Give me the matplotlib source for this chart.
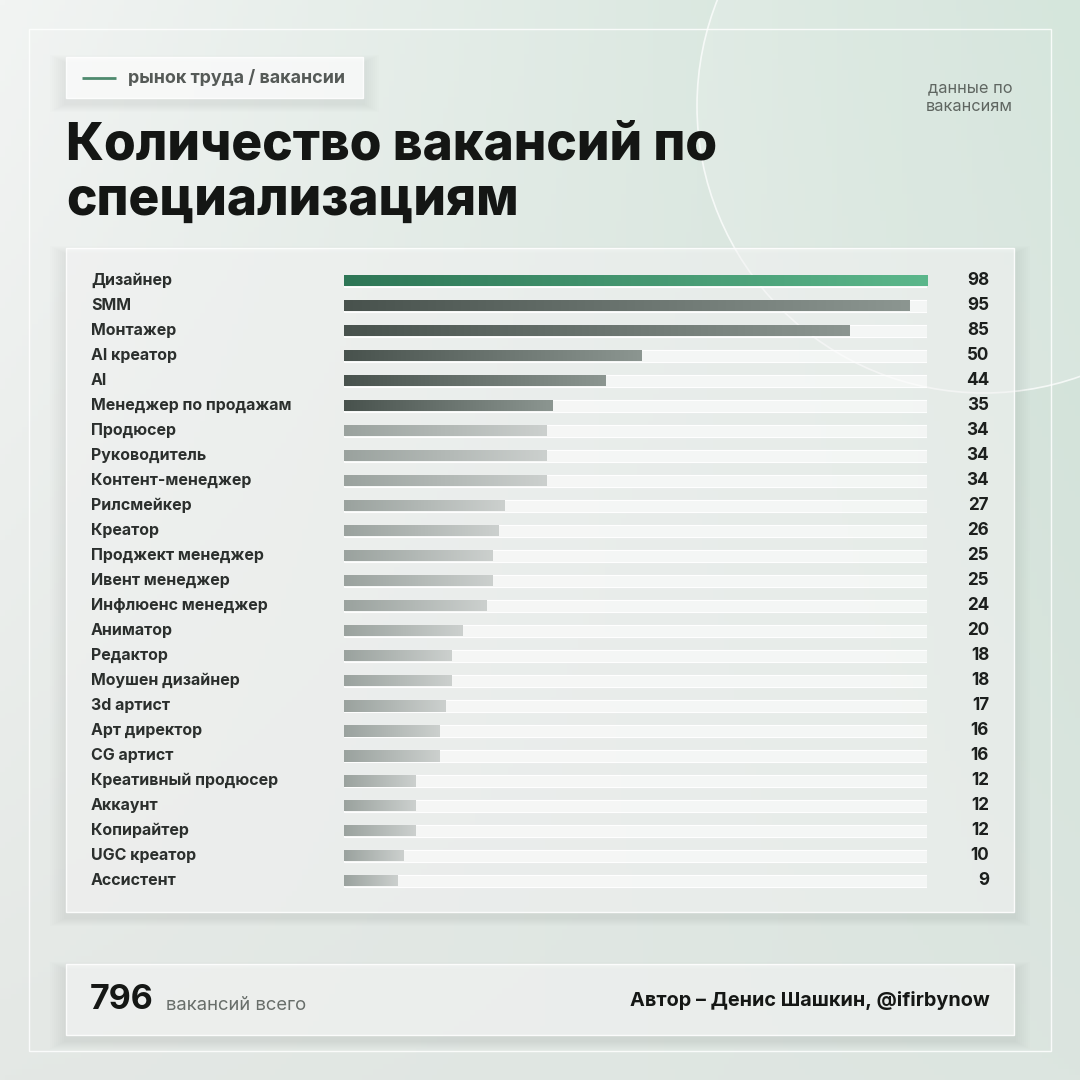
import numpy as np
import matplotlib
matplotlib.use("Agg")
import matplotlib.pyplot as plt
import matplotlib.transforms as mtransforms
from matplotlib.patches import Rectangle, Circle
from matplotlib.colors import LinearSegmentedColormap, to_rgb

plt.rcParams['font.family'] = ['Inter', 'DejaVu Sans']

# данные
specs = ["Дизайнер", "SMM", "Монтажер", "AI креатор", "AI", "Менеджер по продажам",
         "Продюсер", "Руководитель", "Контент-менеджер", "Рилсмейкер", "Креатор",
         "Проджект менеджер", "Ивент менеджер", "Инфлюенс менеджер", "Аниматор",
         "Редактор", "Моушен дизайнер", "3d артист", "Арт директор", "CG артист",
         "Креативный продюсер", "Аккаунт", "Копирайтер", "UGC креатор", "Ассистент"]
counts = [98, 95, 85, 50, 44, 35, 34, 34, 34, 27, 26, 25, 25, 24, 20,
          18, 18, 17, 16, 16, 12, 12, 12, 10, 9]
total = 796

W = H = 1080
fig = plt.figure(figsize=(10.8, 10.8), dpi=100)

# фон в пиксельных координатах
bg = fig.add_axes([0, 0, 1, 1])
bg.set_xlim(0, W)
bg.set_ylim(H, 0)
bg.axis('off')

tl, tr = np.array(to_rgb("#f2f4f3")), np.array(to_rgb("#cfe2d7"))
bl, br = np.array(to_rgb("#e4e8e5")), np.array(to_rgb("#dce5e0"))
u = np.linspace(0, 1, 200)[None, :, None]
v = np.linspace(0, 1, 200)[:, None, None]
grad = (1 - v) * ((1 - u) * tl + u * tr) + v * ((1 - u) * bl + u * br)
bg.imshow(grad, extent=[0, W, H, 0], aspect='auto', zorder=0)

bg.add_patch(Circle((984, 106), 287, facecolor=(1, 1, 1, 0.14),
                    edgecolor=(1, 1, 1, 0.75), lw=1.2, zorder=1))
bg.add_patch(Rectangle((29, 29), 1022, 1022, fill=False,
                       edgecolor=(1, 1, 1, 0.85), lw=1.0, zorder=2))


def panel(x0, y0, x1, y1, alpha):
    # мягкая тень
    for k in range(1, 9):
        bg.add_patch(Rectangle((x0 - k * 2, y0 - k + 6), x1 - x0 + k * 4, y1 - y0 + k * 2,
                               facecolor=(0.35, 0.4, 0.37, 0.011), edgecolor='none', zorder=2))
    bg.add_patch(Rectangle((x0, y0), x1 - x0, y1 - y0, facecolor=(1, 1, 1, alpha),
                           edgecolor=(1, 1, 1, 0.9), lw=1.0, zorder=3))


panel(66, 57, 363, 98, 0.78)
panel(66, 248, 1014, 912, 0.55)
panel(66, 964, 1014, 1035, 0.58)

# тег
bg.plot([82, 116], [78, 78], color="#4e8a6e", lw=2, solid_capstyle='butt', zorder=4)
bg.text(128, 78, "рынок труда / вакансии", fontsize=12.9, fontweight='bold',
        color="#555a57", va='center', ha='left', zorder=4)

bg.text(1013, 97, "данные по\nвакансиям", fontsize=11.8, color="#5f6661",
        ha='right', va='center', linespacing=1.35, zorder=4)

bg.text(66, 174, "Количество вакансий по\nспециализациям", fontsize=37, fontweight='heavy',
        color="#141614", ha='left', va='center', linespacing=1.16, zorder=4)

# подвал
bg.text(90, 1000, str(total), fontsize=24.5, fontweight='bold', color="#151715",
        ha='left', va='center', zorder=4)
bg.text(166, 1005, "вакансий всего", fontsize=13.3, color="#686e6a",
        ha='left', va='center', zorder=4)
bg.text(990, 1001, "Автор – Денис Шашкин, @ifirbynow", fontsize=14.3, fontweight='bold',
        color="#151715", ha='right', va='center', zorder=4)

# график
n = len(specs)
row = 25
top_px = 280.5 - row / 2
ax = fig.add_axes([344 / W, 1 - (top_px + n * row) / H, (927 - 344) / W, n * row / H])
ax.set_xlim(0, max(counts))
ax.set_ylim(n - 0.5, -0.5)
ax.axis('off')
ax.patch.set_alpha(0)

ypos = np.arange(n)
bh = 0.48
ax.barh(ypos, [max(counts)] * n, height=bh, color=(1, 1, 1, 0.55),
        edgecolor=(1, 1, 1, 0.95), lw=0.8, zorder=1)
bars = ax.barh(ypos, counts, height=bh, color='none', zorder=2)

green = LinearSegmentedColormap.from_list("g", ["#2e7656", "#5bb78b"])
dark = LinearSegmentedColormap.from_list("d", ["#48524d", "#8c9691"])
light = LinearSegmentedColormap.from_list("l", ["#9aa29e", "#ccd0ce"])
ramp = np.linspace(0, 1, 256)[None, :]
for i, b in enumerate(bars):
    cmap = green if i == 0 else (dark if counts[i] >= 35 else light)
    x, y = b.get_x(), b.get_y()
    im = ax.imshow(ramp, cmap=cmap, aspect='auto', zorder=3,
                   extent=[x, x + b.get_width(), y + b.get_height(), y])
    im.set_clip_path(b)

ax.set_xlim(0, max(counts))
ax.set_ylim(n - 0.5, -0.5)

tr_lab = mtransforms.blended_transform_factory(bg.transData, ax.transData)
for i in range(n):
    ax.text(91, i, specs[i], transform=tr_lab, fontsize=11.5, fontweight='bold',
            color="#2b2f2d", ha='left', va='center', clip_on=False)
    ax.text(989, i, str(counts[i]), transform=tr_lab, fontsize=12.3, fontweight='bold',
            color="#1c1f1d", ha='right', va='center', clip_on=False)

fig.savefig("out.png", dpi=100)
